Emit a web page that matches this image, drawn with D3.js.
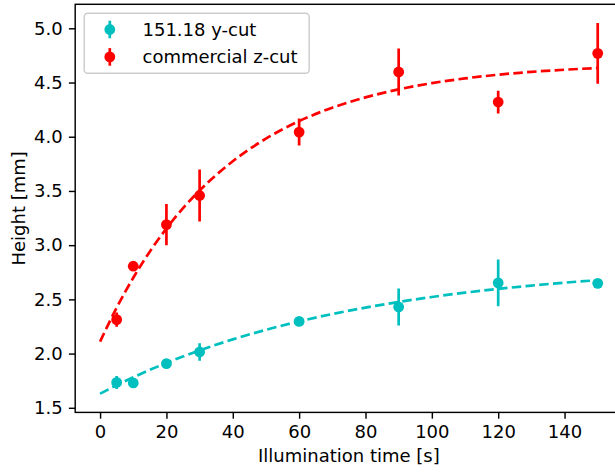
<!DOCTYPE html>
<html>
<head>
<meta charset="utf-8">
<script src="https://cdn.jsdelivr.net/npm/d3@7"></script>
<style>
  html, body { margin: 0; padding: 0; background: #fff; }
  svg { display: block; }
  text { font-family: "DejaVu Sans", sans-serif; fill: #000; }
</style>
</head>
<body>
<svg id="chart" width="615" height="472"></svg>
<script>
// Measured times (s)
const times = [5, 10, 20, 30, 60, 90, 120, 150];

// 151.18 y-cut: mean height (mm) and error
const yCutHeight = [1.734, 1.729, 1.907, 2.015, 2.297, 2.43, 2.652, 2.648];
const yCutErr    = [0.06, 0.02, 0.02, 0.08, 0.02, 0.17, 0.215, 0.02];

// commercial z-cut: mean height (mm) and error
const zCutHeight = [2.313, 2.806, 3.19, 3.458, 4.043, 4.597, 4.32, 4.769];
const zCutErr    = [0.065, 0.02, 0.19, 0.24, 0.125, 0.217, 0.105, 0.28];

// Saturation-fit curves sampled along the time axis
const fitTimes = [0, 5, 10, 20, 30, 40, 50, 60, 70, 80, 90, 100, 110, 120, 130, 140, 150];
const yCutFit  = [1.630, 1.708, 1.781, 1.914, 2.029, 2.131, 2.219, 2.297, 2.365, 2.424, 2.476, 2.522, 2.562, 2.597, 2.627, 2.654, 2.677];
const zCutFit  = [2.110, 2.424, 2.699, 3.154, 3.504, 3.774, 3.983, 4.144, 4.268, 4.363, 4.437, 4.494, 4.538, 4.572, 4.598, 4.618, 4.634];

const xTicks = [0, 20, 40, 60, 80, 100, 120, 140];
const yTicks = [1.5, 2.0, 2.5, 3.0, 3.5, 4.0, 4.5, 5.0];

const seriesNames = ["151.18 y-cut", "commercial z-cut"];
const seriesColors = ["#00bfbf", "#ff0000"];

(function draw() {
  const svg = d3.select("#chart");
  const axLeft = 75.2, axRight = 622.6, axTop = 4.3, axBottom = 412.4;

  const x = d3.scaleLinear().domain([-7.5, 157.5]).range([axLeft, axRight]);
  const y = d3.scaleLinear().domain([1.4576, 5.2214]).range([axBottom, axTop]);

  const fontPx = 18;
  const tickLen = 6.3, tickPad = 6.3;

  // Axes
  const xAxis = d3.axisBottom(x).tickValues(xTicks).tickSize(tickLen).tickPadding(tickPad).tickFormat(d3.format("d"));
  const yAxis = d3.axisLeft(y).tickValues(yTicks).tickSize(tickLen).tickPadding(tickPad).tickFormat(d3.format(".1f"));

  const gx = svg.append("g").attr("transform", `translate(0,${axBottom})`).call(xAxis);
  const gy = svg.append("g").attr("transform", `translate(${axLeft},0)`).call(yAxis);
  [gx, gy].forEach(g => {
    g.select(".domain").remove();
    g.selectAll(".tick line").attr("stroke", "#000").attr("stroke-width", 1.44);
    g.selectAll(".tick text").attr("font-size", fontPx).attr("font-family", "DejaVu Sans").attr("fill", "#000");
  });

  // Data layer clipped to the axes box
  svg.append("clipPath").attr("id", "plotClip")
    .append("rect").attr("x", axLeft).attr("y", axTop).attr("width", axRight - axLeft).attr("height", axBottom - axTop);
  const plot = svg.append("g").attr("clip-path", "url(#plotClip)");

  const series = [
    { h: yCutHeight, e: yCutErr, fit: yCutFit, color: seriesColors[0] },
    { h: zCutHeight, e: zCutErr, fit: zCutFit, color: seriesColors[1] }
  ];

  series.forEach(s => {
    const pts = times.map((t, i) => ({ t, v: s.h[i], e: s.e[i] }));
    const g = plot.append("g");
    g.selectAll("line.err").data(pts).join("line")
      .attr("class", "err")
      .attr("x1", d => x(d.t)).attr("x2", d => x(d.t))
      .attr("y1", d => y(d.v - d.e)).attr("y2", d => y(d.v + d.e))
      .attr("stroke", s.color).attr("stroke-width", 2.7);
    g.selectAll("circle").data(pts).join("circle")
      .attr("cx", d => x(d.t)).attr("cy", d => y(d.v)).attr("r", 5.4)
      .attr("fill", s.color);
  });

  series.forEach(s => {
    const line = d3.line().x(d => x(d[0])).y(d => y(d[1])).curve(d3.curveMonotoneX);
    plot.append("path")
      .datum(fitTimes.map((t, i) => [t, s.fit[i]]))
      .attr("d", line)
      .attr("fill", "none")
      .attr("stroke", s.color)
      .attr("stroke-width", 2.7)
      .attr("stroke-dasharray", "9.5,4.3");
  });

  // Spines
  svg.append("rect")
    .attr("x", axLeft).attr("y", axTop).attr("width", axRight - axLeft).attr("height", axBottom - axTop)
    .attr("fill", "none").attr("stroke", "#000").attr("stroke-width", 1.44);

  // Axis labels
  svg.append("text")
    .attr("x", (axLeft + axRight) / 2).attr("y", 462)
    .attr("text-anchor", "middle").attr("font-size", fontPx)
    .text("Illumination time [s]");
  svg.append("text")
    .attr("transform", `translate(25,${(axTop + axBottom) / 2}) rotate(-90)`)
    .attr("text-anchor", "middle").attr("font-size", fontPx)
    .text("Height [mm]");

  // Legend
  const lg = svg.append("g");
  const lgX = 84.2, lgY = 13.3, lgW = 225, lgH = 60;
  lg.append("rect")
    .attr("x", lgX).attr("y", lgY).attr("width", lgW).attr("height", lgH)
    .attr("rx", 3.6).attr("ry", 3.6)
    .attr("fill", "#fff").attr("fill-opacity", 0.8)
    .attr("stroke", "#cccccc").attr("stroke-width", 1.44);

  const rows = lg.selectAll("g.row").data(seriesNames).join("g")
    .attr("class", "row")
    .attr("transform", (d, i) => `translate(0,${29.5 + i * 27.4})`);
  rows.append("line")
    .attr("x1", 109.8).attr("x2", 109.8).attr("y1", -8.8).attr("y2", 8.8)
    .attr("stroke", (d, i) => seriesColors[i]).attr("stroke-width", 2.7);
  rows.append("circle")
    .attr("cx", 109.8).attr("cy", 0).attr("r", 5.4)
    .attr("fill", (d, i) => seriesColors[i]);
  rows.append("text")
    .attr("x", 142.5).attr("y", 0).attr("dy", "0.36em")
    .attr("font-size", fontPx)
    .text(d => d);
})();
</script>
</body>
</html>
